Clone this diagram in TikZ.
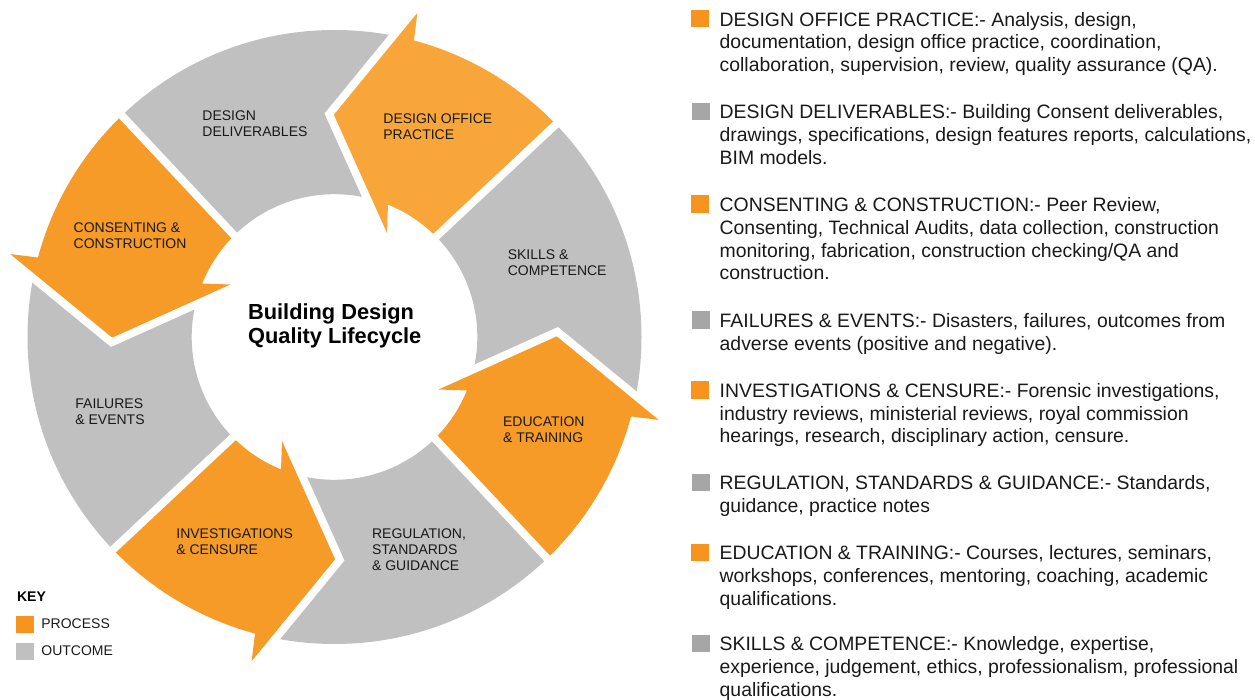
\documentclass[tikz,border=0pt]{standalone}
\usepackage{fontspec}
\setmainfont{Liberation Sans}
\usepackage{xcolor}
\definecolor{procorange}{HTML}{F69B28}
\definecolor{proclight}{HTML}{F8A63A}
\definecolor{keyorange}{HTML}{F7941E}
\definecolor{outgray}{HTML}{C0C0C0}
\definecolor{listgray}{HTML}{A6A6A6}
\usepackage{tikz}

\begin{document}
\begin{tikzpicture}[x=0.5pt, y=-0.5pt,
	seg/.style={inner sep=0pt, align=left, anchor=west, text=black!90, font=\fontsize{7}{8}\selectfont},
	item/.style={inner sep=0pt, align=left, anchor=north west, text=black!90, font=\fontsize{9.7}{11.4}\selectfont},
	sq/.style={minimum size=8.75pt, inner sep=0pt},
	proc/.style={fill=#1, preaction={draw=white, line width=8pt}}]
	\useasboundingbox (0,0) rectangle (1255,700);
	% ring
	\begin{scope}[shift={(334.5,337)}, x=153.5pt, y=153.5pt]
	\fill[outgray, even odd rule] (0,0) circle[radius=153.5pt] (0,0) circle[radius=71.4pt];
	\fill[proc=proclight] (44.6:1) arc[start angle=44.6, end angle=75, radius=153.5pt] -- (0.27,1.056) -- (-0.002,0.724) -- (0.171,0.339) -- (68:0.465) arc[start angle=68, end angle=46.3, radius=71.4pt] -- cycle;
	\fill[proc=procorange, rotate=90] (44.6:1) arc[start angle=44.6, end angle=75, radius=153.5pt] -- (0.27,1.056) -- (-0.002,0.724) -- (0.171,0.339) -- (68:0.465) arc[start angle=68, end angle=46.3, radius=71.4pt] -- cycle;
	\fill[proc=procorange, rotate=180] (44.6:1) arc[start angle=44.6, end angle=75, radius=153.5pt] -- (0.27,1.056) -- (-0.002,0.724) -- (0.171,0.339) -- (68:0.465) arc[start angle=68, end angle=46.3, radius=71.4pt] -- cycle;
	\fill[proc=procorange, rotate=270] (44.6:1) arc[start angle=44.6, end angle=75, radius=153.5pt] -- (0.27,1.056) -- (-0.002,0.724) -- (0.171,0.339) -- (68:0.465) arc[start angle=68, end angle=46.3, radius=71.4pt] -- cycle;
	\end{scope}
	% segment labels
	\node[seg] (deliv) at (202,124) {DESIGN\\DELIVERABLES};
	\node[seg] (office) at (383,126.3) {DESIGN OFFICE\\PRACTICE};
	\node[seg] (consent) at (73.3,236) {CONSENTING \&\\CONSTRUCTION};
	\node[seg] (skills) at (507.4,262.5) {SKILLS \&\\COMPETENCE};
	\node[seg] (fail) at (75,412) {FAILURES\\\& EVENTS};
	\node[seg] (edu) at (502.7,429.5) {EDUCATION\\\& TRAINING};
	\node[seg] (invest) at (176,542) {INVESTIGATIONS\\\& CENSURE};
	\node[seg] (reg) at (371.7,549.2) {REGULATION,\\STANDARDS\\\& GUIDANCE};
	\node[inner sep=0pt, align=left, anchor=west, font=\bfseries\fontsize{10.9}{12.2}\selectfont] (title) at (247.7,325.7) {Building Design\\Quality Lifecycle};
	% key
	\node[inner sep=0pt, anchor=west, font=\bfseries\fontsize{7}{8}\selectfont] (key) at (16.7,596.7) {KEY};
	\node[sq, fill=keyorange] (kproc) at (25,624.5) {};
	\node[seg] (kproctxt) at (41,624) {PROCESS};
	\node[sq, fill=outgray] (kout) at (25,651.7) {};
	\node[seg] (kouttxt) at (41,650.7) {OUTCOME};
	% list
	\node[sq, fill=keyorange] (b1) at (700,18.7) {};
	\node[item] (t1) at (719.3,11.7) {DESIGN OFFICE PRACTICE:- Analysis, design,\\documentation, design office practice, coordination,\\collaboration, supervision, review, quality assurance (QA).};
	\node[sq, fill=listgray] (b2) at (701,111.5) {};
	\node[item] (t2) at (719.3,104.5) {DESIGN DELIVERABLES:- Building Consent deliverables,\\drawings, specifications, design features reports, calculations,\\BIM models.};
	\node[sq, fill=keyorange] (b3) at (700,204) {};
	\node[item] (t3) at (719.3,197) {CONSENTING \& CONSTRUCTION:- Peer Review,\\Consenting, Technical Audits, data collection, construction\\monitoring, fabrication, construction checking/QA and\\construction.};
	\node[sq, fill=listgray] (b4) at (701,319.8) {};
	\node[item] (t4) at (719.3,312.8) {FAILURES \& EVENTS:- Disasters, failures, outcomes from\\adverse events (positive and negative).};
	\node[sq, fill=keyorange] (b5) at (700,389.8) {};
	\node[item] (t5) at (719.3,382.8) {INVESTIGATIONS \& CENSURE:- Forensic investigations,\\industry reviews, ministerial reviews, royal commission\\hearings, research, disciplinary action, censure.};
	\node[sq, fill=listgray] (b6) at (701,482.5) {};
	\node[item] (t6) at (719.3,475.5) {REGULATION, STANDARDS \& GUIDANCE:- Standards,\\guidance, practice notes};
	\node[sq, fill=keyorange] (b7) at (700,552.5) {};
	\node[item] (t7) at (719.3,545.5) {EDUCATION \& TRAINING:- Courses, lectures, seminars,\\workshops, conferences, mentoring, coaching, academic\\qualifications.};
	\node[sq, fill=listgray] (b8) at (701,643.3) {};
	\node[item] (t8) at (719.3,636.3) {SKILLS \& COMPETENCE:- Knowledge, expertise,\\experience, judgement, ethics, professionalism, professional\\qualifications.};
\end{tikzpicture}
\end{document}
